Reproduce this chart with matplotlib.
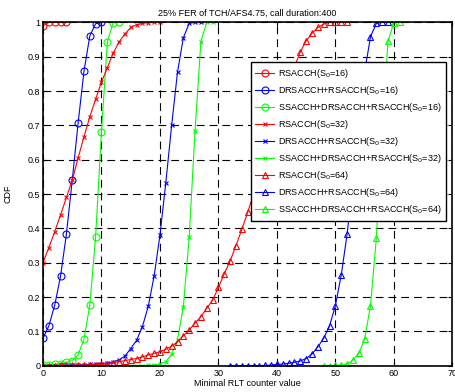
import matplotlib
matplotlib.use("Agg")
import matplotlib.pyplot as plt
import numpy as np

# S0 = 16
x_r16 = list(range(0, 5))
y_r16 = [0.99, 1.0, 1.0, 1.0, 1.0]
x_dr16 = list(range(0, 11))
y_dr16 = [0.08, 0.116, 0.176, 0.261, 0.383, 0.54, 0.706, 0.857, 0.96, 0.996, 1.0]
x_ss16 = list(range(0, 14))
y_ss16 = [0.002, 0.002, 0.004, 0.006, 0.01, 0.015, 0.031, 0.077, 0.176, 0.376,
          0.682, 0.943, 0.999, 1.0]

# S0 = 32
x_r32 = list(range(0, 21))
y_r32 = [0.3, 0.344, 0.39, 0.439, 0.49, 0.54, 0.605, 0.666, 0.725, 0.776, 0.826,
         0.868, 0.91, 0.943, 0.966, 0.985, 0.993, 0.997, 0.999, 1.0, 1.0]
x_dr32 = list(range(0, 28))
y_dr32 = [0.0, 0.0, 0.0, 0.001, 0.001, 0.002, 0.002, 0.003, 0.004, 0.005, 0.006,
          0.008, 0.011, 0.017, 0.028, 0.05, 0.074, 0.114, 0.173, 0.261, 0.38,
          0.533, 0.7, 0.855, 0.955, 0.997, 1.0, 1.0]
x_ss32 = list(range(14, 30))
y_ss32 = [0.0, 0.0, 0.0, 0.0, 0.001, 0.002, 0.004, 0.012, 0.034, 0.075, 0.172,
          0.375, 0.684, 0.944, 1.0, 1.0]

# S0 = 64
x_r64 = list(range(0, 53))
y_r64 = [0.0, 0.0, 0.0, 0.001, 0.001, 0.001, 0.002, 0.002, 0.003, 0.003, 0.004,
         0.005, 0.009, 0.012, 0.015, 0.018, 0.021, 0.026, 0.031, 0.036, 0.041,
         0.048, 0.057, 0.07, 0.087, 0.104, 0.124, 0.143, 0.167, 0.191, 0.228,
         0.268, 0.305, 0.35, 0.397, 0.447, 0.499, 0.55, 0.605, 0.66, 0.715,
         0.77, 0.82, 0.87, 0.914, 0.946, 0.968, 0.985, 0.995, 1.0, 1.0, 1.0, 1.0]
x_dr64 = list(range(32, 60))
y_dr64 = [0.0, 0.0, 0.0, 0.0, 0.0, 0.0, 0.001, 0.002, 0.004, 0.005, 0.007, 0.01,
          0.014, 0.021, 0.034, 0.055, 0.08, 0.116, 0.175, 0.264, 0.383, 0.535,
          0.7, 0.855, 0.958, 0.997, 1.0, 1.0]
x_ss64 = list(range(48, 62))
y_ss64 = [0.0, 0.0, 0.001, 0.002, 0.004, 0.017, 0.036, 0.078, 0.174, 0.371,
          0.684, 0.945, 0.999, 1.0]

labels = ["RSACCH(S$_0$=16)", "DRSACCH+RSACCH(S$_0$=16)", "SSACCH+DRSACCH+RSACCH(S$_0$=16)",
          "RSACCH(S$_0$=32)", "DRSACCH+RSACCH(S$_0$=32)", "SSACCH+DRSACCH+RSACCH(S$_0$=32)",
          "RSACCH(S$_0$=64)", "DRSACCH+RSACCH(S$_0$=64)", "SSACCH+DRSACCH+RSACCH(S$_0$=64)"]

series = [(x_r16, y_r16), (x_dr16, y_dr16), (x_ss16, y_ss16),
          (x_r32, y_r32), (x_dr32, y_dr32), (x_ss32, y_ss32),
          (x_r64, y_r64), (x_dr64, y_dr64), (x_ss64, y_ss64)]
colors = ["#ff0000", "#0000ff", "#00ff00"] * 3
markers = ["o"] * 3 + ["x"] * 3 + ["^"] * 3
msizes = [5] * 3 + [2.5] * 3 + [5] * 3

plt.rcParams['font.family'] = ['Liberation Sans', 'DejaVu Sans']
fig = plt.figure(figsize=(4.56, 3.92), dpi=100)
ax = fig.add_axes([0.0943, 0.067, 0.8977, 0.876])

for (xs, ys), c, m, ms, lab in zip(series, colors, markers, msizes, labels):
    ax.plot(xs, ys, color=c, marker=m, markersize=ms, markerfacecolor='none',
            markeredgecolor=c, markeredgewidth=0.8, linewidth=0.8, label=lab)

ax.set_xlim(0, 70)
ax.set_ylim(0, 1)
ax.set_xticks(np.arange(0, 71, 10))
ax.set_yticks(np.arange(0, 1.01, 0.1))
ax.set_yticklabels(["0"] + ["%.1f" % v for v in np.arange(0.1, 0.95, 0.1)] + ["1"])
ax.grid(True, color='black', linestyle=(0, (7, 4.5)), linewidth=0.8)
ax.tick_params(direction='in', length=3, top=True, right=True, labelsize=6.5, pad=2)
for s in ax.spines.values():
    s.set_linewidth(1.2)

ax.set_title("25% FER of TCH/AFS4.75, call duration:400", fontsize=6.5, pad=5)
ax.set_xlabel("Minimal RLT counter value", fontsize=6.5, labelpad=1)
ax.set_ylabel("CDF", fontsize=6.5, labelpad=11)

leg = ax.legend(loc='upper right', bbox_to_anchor=(0.984, 0.884), fontsize=6.5,
                frameon=True, fancybox=False, framealpha=1, edgecolor='black',
                borderaxespad=0, handlelength=2.1, labelspacing=0.45,
                borderpad=0.5, handletextpad=0.4)
leg.get_frame().set_linewidth(1.0)

fig.savefig("out.png", dpi=100)
